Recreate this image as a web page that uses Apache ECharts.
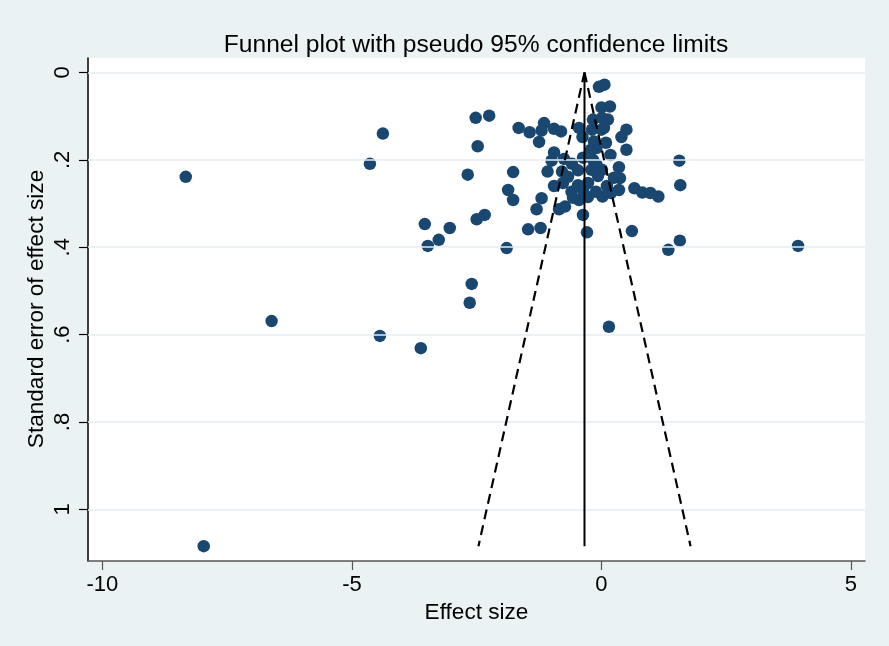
<!DOCTYPE html>
<html><head><meta charset="utf-8">
<script src="https://cdn.jsdelivr.net/npm/echarts@6/dist/echarts.min.js"></script>
<style>html,body{margin:0;padding:0;background:#EAF2F3}#c{width:889px;height:646px}</style>
</head><body><div id="c"></div>
<script>
// Effect size (x) and standard error (y) of each study
var effectSize = [-8.33,-7.97,-6.61,-4.64,-4.38,-4.44,-3.62,-3.54,-3.48,-3.26,-3.04,-2.68,-2.60,-2.64,-2.52,-2.25,-2.48,-2.50,-2.34,-1.90,
 -1.87,-1.77,-1.77,-1.66,-1.44,-1.47,-1.22,-1.30,-1.20,-1.25,-1.15,-1.20,-0.95,-0.81,-0.95,-1.00,-0.75,-1.08,-0.95,-0.77,
 -0.85,-0.73,-0.59,-0.60,-0.45,-0.38,-0.37,-0.47,-0.45,-0.37,-0.29,-0.27,-0.17,-0.19,-0.15,-0.10,-0.17,-0.10,-0.20,0.01,
 0.02,0.00,0.17,0.06,-0.05,0.01,0.13,0.00,0.18,0.50,0.40,0.50,0.35,0.37,0.35,0.66,0.82,0.98,1.14,1.56,
 1.58,0.61,1.57,1.34,0.15,3.94,-0.07,-0.27,-0.47,0.11,-0.11,0.19,-0.37,-0.67,0.09,0.25,-0.21,-0.57,-0.79,0.05];
var stdError = [0.239,1.084,0.569,0.209,0.140,0.603,0.631,0.347,0.397,0.383,0.356,0.234,0.484,0.527,0.104,0.099,0.169,0.336,0.326,0.402,
 0.269,0.292,0.228,0.127,0.137,0.359,0.356,0.313,0.288,0.159,0.116,0.133,0.129,0.135,0.183,0.202,0.198,0.227,0.260,0.253,
 0.313,0.307,0.209,0.273,0.127,0.148,0.195,0.224,0.292,0.326,0.366,0.285,0.108,0.131,0.158,0.173,0.200,0.211,0.223,0.223,
 0.284,0.080,0.078,0.028,0.033,0.104,0.108,0.131,0.189,0.131,0.148,0.177,0.217,0.242,0.269,0.265,0.275,0.276,0.284,0.202,
 0.258,0.363,0.385,0.406,0.582,0.397,0.237,0.253,0.258,0.260,0.273,0.276,0.269,0.239,0.161,0.241,0.177,0.287,0.227,0.127];
// pooled estimate line and pseudo 95% limits
var pooledLine = [[-0.34, 0], [-0.34, 1.084]];
var lowerLimit = [[-0.34, 0], [-2.465, 1.084]];
var upperLimit = [[-0.34, 0], [1.785, 1.084]];
var xTicks = [-10, -5, 0, 5];
var yTicks = [0, 0.2, 0.4, 0.6, 0.8, 1];

var pts = effectSize.map(function(v, i){ return [v, stdError[i]]; });
var FONT = '"Liberation Sans", Arial, sans-serif';
var chart = echarts.init(document.getElementById('c'), null, {renderer:'canvas'});
chart.setOption({
  backgroundColor: '#EAF2F3',
  animation: false,
  title: {text: 'Funnel plot with pseudo 95% confidence limits', left: 471, textAlign: 'center', top: 28,
    textStyle: {fontFamily: FONT, fontSize: 24.6, fontWeight: 'normal', color: '#000'}},
  graphic: [{type: 'text', x: 37, y: 309, rotation: Math.PI / 2, silent: true,
    style: {text: 'Standard error of effect size', font: '22.6px "Liberation Sans", Arial, sans-serif',
      fill: '#000', align: 'center', verticalAlign: 'middle'}}],
  grid: {left: 88, top: 58, right: 24, bottom: 85, show: true, backgroundColor: '#fff', borderWidth: 0},
  xAxis: {type: 'value', min: -10.289, max: 5.281,
    axisLine: {onZero: false, lineStyle: {color: '#555', width: 1.5}},
    axisTick: {show: true, customValues: xTicks, length: 9, lineStyle: {color: '#555', width: 1.2}},
    axisLabel: {customValues: xTicks, fontFamily: FONT, fontSize: 22, color: '#000', margin: 13},
    splitLine: {show: false},
    name: 'Effect size', nameLocation: 'middle', nameGap: 38,
    nameTextStyle: {fontFamily: FONT, fontSize: 22.6, color: '#000'}},
  yAxis: {type: 'value', inverse: true, min: -0.033, max: 1.118,
    axisLine: {onZero: false, lineStyle: {color: '#000', width: 1.5}},
    axisTick: {show: true, customValues: yTicks, length: 9, lineStyle: {color: '#000', width: 1.2}},
    axisLabel: {customValues: yTicks, rotate: 90, fontFamily: FONT, fontSize: 22, color: '#000', margin: 14,
      formatter: function(v){ var s = String(+(+v).toFixed(1)); return s.replace(/^0\./, '.'); }},
    splitLine: {show: false}},
  series: [
    {type: 'scatter', data: [], silent: true, z: 1,
      markLine: {silent: true, symbol: 'none', label: {show: false},
        lineStyle: {color: '#E4EDF0', width: 1.5, type: 'solid'},
        data: yTicks.map(function(v){ return {yAxis: v}; })}},
    {type: 'scatter', data: pts, symbol: 'circle', symbolSize: 12.5, z: 3,
      itemStyle: {color: '#1A476F', opacity: 1}},
    {type: 'line', data: pooledLine, symbol: 'none', z: 5, lineStyle: {color: '#000', width: 2}},
    {type: 'line', data: lowerLimit, symbol: 'none', z: 5, lineStyle: {color: '#000', width: 2.2, type: [10, 6]}},
    {type: 'line', data: upperLimit, symbol: 'none', z: 5, lineStyle: {color: '#000', width: 2.2, type: [10, 6]}}
  ]
});
</script></body></html>
